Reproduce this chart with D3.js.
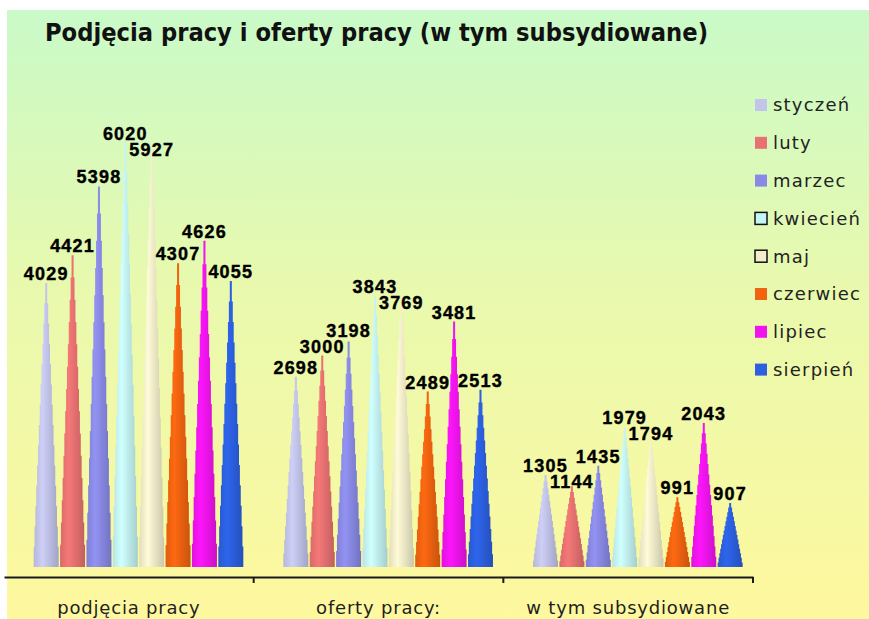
<!DOCTYPE html>
<html>
<head>
<meta charset="utf-8">
<script src="https://cdn.jsdelivr.net/npm/d3@7"></script>
<style>
  body { margin: 0; background: #fff; }
  svg { display: block; }
</style>
</head>
<body>
<svg class="chart"></svg>
<script>
// chart data
var categories = ["podjęcia pracy", "oferty pracy:", "w tym subsydiowane"];
var months = ["styczeń", "luty", "marzec", "kwiecień", "maj", "czerwiec", "lipiec", "sierpień"];
var podjecia = [4029, 4421, 5398, 6020, 5927, 4307, 4626, 4055];
var oferty = [2698, 3000, 3198, 3843, 3769, 2489, 3481, 2513];
var subsydiowane = [1305, 1144, 1435, 1979, 1794, 991, 2043, 907];

var colors = ["#c2c4ea", "#e87272", "#8a8ae6", "#c4f6f4", "#f2eecc", "#f06410", "#f014ee", "#2c60e0"];
var outlined = ["kwiecień", "maj"];

var width = 869, height = 619;
var series = [podjecia, oferty, subsydiowane];

var svg = d3.select(".chart")
	.attr("width", width)
	.attr("height", height);

// background gradient
var defs = svg.append("defs");
var bg = defs.append("linearGradient")
	.attr("id", "bg")
	.attr("x1", 0).attr("y1", 0).attr("x2", 0).attr("y2", 1);
bg.append("stop").attr("offset", "0%").attr("stop-color", "#c9fac8");
bg.append("stop").attr("offset", "45%").attr("stop-color", "#e8f9ae");
bg.append("stop").attr("offset", "100%").attr("stop-color", "#fef89e");

svg.append("rect")
	.attr("x", 7).attr("y", 10)
	.attr("width", width - 7).attr("height", height - 10)
	.attr("fill", "url(#bg)");

// one gradient per month, lit from the left
months.forEach(function(m, i) {
	var c = d3.color(colors[i]);
	var g = defs.append("linearGradient")
		.attr("id", "cone" + i)
		.attr("x1", 0).attr("y1", 0).attr("x2", 1).attr("y2", 0);
	g.append("stop").attr("offset", "0%").attr("stop-color", c.darker(0.2));
	g.append("stop").attr("offset", "35%").attr("stop-color", c.brighter(0.15));
	g.append("stop").attr("offset", "100%").attr("stop-color", c.darker(0.5));
});

// scales
var x0 = d3.scaleBand()
	.domain(categories)
	.range([4, 753])
	.padding(0);

var x1 = d3.scaleBand()
	.domain(months)
	.range([29, 240])
	.padding(0);

var y = d3.scaleLinear()
	.domain([0, 6000])
	.range([567, 144]);

// stepped cone outline
var steps = 14, baseW = 25;
var cone = function(v) {
	var pts = d3.range(steps + 1).map(function(k) {
		var t = k / steps;
		var hw = Math.max(0.9, baseW / 2 * Math.pow(1 - t, 0.95));
		return { y: y(0) + (y(v) - y(0)) * t, hw: hw };
	});
	return d3.area()
		.y(d => d.y)
		.x0(d => -d.hw)
		.x1(d => d.hw)
		.curve(d3.curveStepBefore)(pts);
};

var groups = svg.append("g")
	.selectAll("g").data(categories).enter().append("g")
		.attr("transform", d => `translate(${x0(d)},0)`);

groups.selectAll("path")
	.data((d, gi) => series[gi].map((v, i) => ({ month: months[i], value: v, i: i })))
	.enter().append("path")
		.attr("transform", d => `translate(${x1(d.month) + x1.bandwidth() / 2},0)`)
		.attr("d", d => cone(d.value))
		.attr("fill", d => `url(#cone${d.i})`);

// value labels: just above the tip, moved up or down when they hit a previous one
var labelH = 14;
var labelW = function(v) { return String(v).length * 11.2; };
var placeLabels = function(vals) {
	var placed = [];
	return vals.map(function(v, i) {
		var cx = x1(months[i]) + x1.bandwidth() / 2;
		var bottom = y(v) - 3;
		placed.forEach(function(p) {
			var overlapX = Math.abs(p.cx - cx) < (p.w + labelW(v)) / 2;
			var overlapY = bottom > p.bottom - labelH && bottom - labelH < p.bottom;
			if (overlapX && overlapY) {
				bottom = v > p.value ? p.bottom - labelH - 2 : p.bottom + labelH + 2;
			}
		});
		var lab = { cx: cx, bottom: bottom, w: labelW(v), value: v };
		placed.push(lab);
		return lab;
	});
};

groups.selectAll("text")
	.data((d, gi) => placeLabels(series[gi]))
	.enter().append("text")
		.attr("x", d => d.cx)
		.attr("y", d => d.bottom)
		.attr("text-anchor", "middle")
		.attr("font-family", "Liberation Sans, Arial, sans-serif")
		.attr("font-weight", "bold")
		.attr("font-size", 18)
		.attr("letter-spacing", 1.2)
		.attr("fill", "#000")
		.attr("stroke", "#000")
		.attr("stroke-width", 0.4)
		.text(d => d.value);

// category axis
var xAxis = g => g
	.attr("transform", `translate(0,${577})`)
	.call(d3.axisBottom(x0).tickSize(0).tickPadding(24))
	.call(g => g.select(".domain").attr("stroke", "#1a1a1a").attr("stroke-width", 2))
	.call(g => g.selectAll(".tick text")
		.attr("font-family", "DejaVu Sans, sans-serif")
		.attr("font-size", 18)
		.attr("letter-spacing", 0.8)
		.attr("fill", "#1e1e1e"));

svg.append("g").call(xAxis);

svg.append("g")
	.selectAll("line").data(categories).enter().append("line")
		.attr("x1", d => x0(d) + x0.bandwidth())
		.attr("x2", d => x0(d) + x0.bandwidth())
		.attr("y1", 577).attr("y2", 583)
		.attr("stroke", "#1a1a1a")
		.attr("stroke-width", 2);

// title
svg.append("text")
	.attr("x", 45).attr("y", 41)
	.attr("font-family", "Liberation Sans Narrow, DejaVu Sans Condensed, Liberation Sans, sans-serif")
	.attr("font-weight", "bold")
	.attr("font-size", 25)
	.attr("textLength", 663)
	.attr("lengthAdjust", "spacingAndGlyphs")
	.attr("fill", "#111")
	.text("Podjęcia pracy i oferty pracy (w tym subsydiowane)");

// legend
var legend = svg.append("g")
	.selectAll("g").data(months).enter().append("g")
		.attr("transform", (d, i) => `translate(755,${105 + i * 37.8})`);

legend.append("rect")
	.attr("x", 0).attr("y", -6)
	.attr("width", 12).attr("height", 12)
	.attr("fill", (d, i) => colors[i])
	.attr("stroke", d => outlined.indexOf(d) >= 0 ? "#111" : "none")
	.attr("stroke-width", 1.5);

legend.append("text")
	.attr("x", 18).attr("y", 0)
	.attr("dy", "0.35em")
	.attr("font-family", "DejaVu Sans, sans-serif")
	.attr("font-size", 18)
	.attr("letter-spacing", 1.2)
	.attr("fill", "#222")
	.text(d => d);
</script>
</body>
</html>
